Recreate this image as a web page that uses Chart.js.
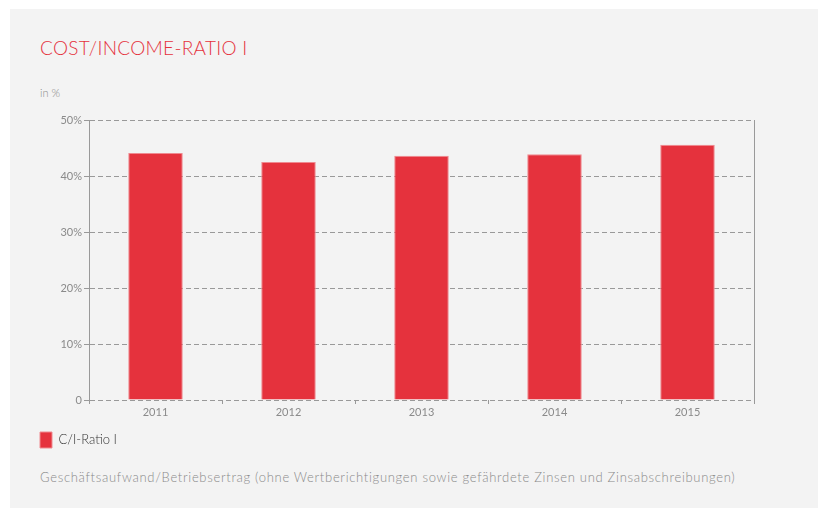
<!DOCTYPE html>
<html lang="de">
<head>
<meta charset="utf-8">
<title>Cost/Income-Ratio I</title>
<script src="https://cdn.jsdelivr.net/npm/chart.js@4.4.1/dist/chart.umd.min.js"></script>
<style>
    html, body { margin: 0; padding: 0; background: #ffffff; }
    body { width: 818px; height: 508px; position: relative; overflow: hidden; font-family: Lato, "Open Sans", sans-serif; }
    #panel { position: absolute; left: 10px; top: 9px; width: 808px; height: 499px; background: #f3f3f3; }
    #chart-box { position: absolute; left: 0; top: 0; width: 818px; height: 508px; }
    .title { position: absolute; left: 40px; top: 36px; font-size: 19px; font-weight: 300; color: #e5323d; letter-spacing: 0.3px; }
    .unit { position: absolute; left: 40px; top: 86px; font-size: 11px; font-weight: 300; color: #8a8a8a; }
    .note { position: absolute; left: 40px; top: 469px; font-size: 13px; font-weight: 300; color: #8a8a8a; letter-spacing: 0.7px; }
</style>
</head>
<body>
<div id="panel"></div>
<div class="title">COST/INCOME-RATIO I</div>
<div class="unit">in %</div>
<div class="note">Geschäftsaufwand/Betriebsertrag (ohne Wertberichtigungen sowie gefährdete Zinsen und Zinsabschreibungen)</div>
<div id="chart-box"><canvas id="ci-chart"></canvas></div>

<script>
// データ
const years = ['2011', '2012', '2013', '2014', '2015'];
const ciRatio = [44.1, 42.5, 43.6, 43.9, 45.6];
const seriesLabel = 'C/I-Ratio I';
const yTickLabels = ['0', '10%', '20%', '30%', '40%', '50%'];

const RED = '#e5323d';
const GRID = '#999999';
const DASH = [5, 3];

// グラフを初期化
function initChart() {
    const ctx = document.getElementById('ci-chart');

    new Chart(ctx, {
        type: 'bar',
        data: {
            labels: years,
            datasets: [{
                label: seriesLabel,
                data: ciRatio,
                backgroundColor: RED,
                borderColor: '#ef8a90',
                borderWidth: 1,
                barPercentage: 0.41,
                categoryPercentage: 1
            }]
        },
        options: {
            responsive: true,
            maintainAspectRatio: false,
            animation: false,
            layout: {
                padding: { left: 34, right: 64, top: 120, bottom: 50 }
            },
            plugins: {
                legend: {
                    position: 'bottom',
                    align: 'start',
                    labels: {
                        boxWidth: 12,
                        boxHeight: 16,
                        padding: 6,
                        color: '#333333',
                        font: { family: 'Lato', size: 13, weight: 300 }
                    }
                },
                tooltip: { enabled: false }
            },
            scales: {
                x: {
                    border: { display: false },
                    grid: {
                        offset: true,
                        color: c => (c.index === undefined ? GRID : 'transparent'),
                        tickColor: GRID,
                        tickLength: 4,
                        tickBorderDash: [],
                        borderDash: DASH
                    },
                    ticks: {
                        color: '#8a8a8a',
                        padding: 2,
                        font: { family: 'Lato', size: 11 }
                    },
                    afterFit: s => { s.height = 26; }
                },
                y: {
                    min: 0,
                    max: 50,
                    border: { display: true, color: GRID, dash: DASH },
                    grid: {
                        color: GRID,
                        tickColor: GRID,
                        tickLength: 5,
                        tickBorderDash: [],
                        borderDash: DASH
                    },
                    ticks: {
                        stepSize: 10,
                        color: '#8a8a8a',
                        padding: 2,
                        font: { family: 'Lato', size: 11 },
                        callback: (v, i) => yTickLabels[i]
                    },
                    afterFit: s => { s.width = 55; }
                }
            }
        }
    });
}

document.addEventListener('DOMContentLoaded', initChart);
</script>
</body>
</html>
